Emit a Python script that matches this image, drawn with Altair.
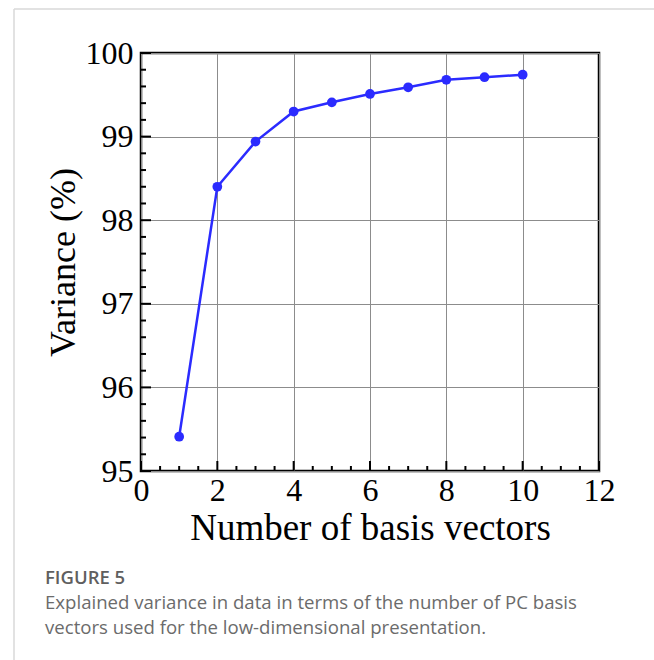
import altair as alt
import pandas as pd

# Explained variance versus number of PC basis vectors
n_vectors = [1, 2, 3, 4, 5, 6, 7, 8, 9, 10]
variance = [95.41, 98.40, 98.94, 99.30, 99.41, 99.51, 99.59, 99.68, 99.71, 99.74]

x_major = [0, 2, 4, 6, 8, 10, 12]
y_major = [95, 96, 97, 98, 99, 100]
x_minor = [v / 2 for v in range(0, 25) if v % 4 != 0]
y_minor = [95 + v / 5 for v in range(0, 26) if v % 5 != 0]

caption_head = "FIGURE 5"
caption_lines = [
    "Explained variance in data in terms of the number of PC basis",
    "vectors used for the low-dimensional presentation.",
]

W, H = 458, 418
SERIF = "Liberation Serif"
SANS = "Open Sans"

df = pd.DataFrame({"n": n_vectors, "var": variance})

xs = alt.Scale(domain=[0, 12], nice=False, zero=False)
ys = alt.Scale(domain=[95, 100], nice=False, zero=False)

axis_common = dict(
    labelFont=SERIF, labelFontSize=32, labelColor="black", labelFlush=False,
    titleFont=SERIF, titleColor="black", titleFontWeight="normal",
    grid=True, gridColor="#8c8c8c", gridWidth=1,
    domain=False, ticks=False, format="d",
)

base = alt.Chart(df)

line = base.mark_line(color="#2b2bff", strokeWidth=2.5).encode(
    x=alt.X("n:Q", scale=xs, axis=alt.Axis(
        values=x_major, title="Number of basis vectors", titleFontSize=37,
        labelPadding=4, titlePadding=4, **axis_common)),
    y=alt.Y("var:Q", scale=ys, axis=alt.Axis(
        values=y_major, title="Variance (%)", titleFontSize=36,
        labelPadding=8, titlePadding=3, **axis_common)),
)
points = base.mark_point(filled=True, color="#2b2bff", size=95, opacity=1).encode(
    x=alt.X("n:Q", scale=xs), y=alt.Y("var:Q", scale=ys)
)

# inward tick marks along the bottom and left edges
def xticks(vals, length):
    return alt.Chart(pd.DataFrame({"t": vals})).mark_rule(color="black", strokeWidth=2).encode(
        x=alt.X("t:Q", scale=xs), y=alt.value(H), y2=alt.value(H - length))

def yticks(vals, length):
    return alt.Chart(pd.DataFrame({"t": vals})).mark_rule(color="black", strokeWidth=2).encode(
        y=alt.Y("t:Q", scale=ys), x=alt.value(0), x2=alt.value(length))

ticks = xticks(x_major, 10) + xticks(x_minor, 5) + yticks(y_major, 10) + yticks(y_minor, 5)

# card border (top and left edges)
border_left = alt.Chart(pd.DataFrame({"a": [0]})).mark_rule(color="#d9d9d9", strokeWidth=1.5).encode(
    x=alt.value(-127), y=alt.value(-44), y2=alt.value(620))
border_top = alt.Chart(pd.DataFrame({"a": [0]})).mark_rule(color="#d9d9d9", strokeWidth=1.5).encode(
    x=alt.value(-127), x2=alt.value(560), y=alt.value(-44))

head = alt.Chart(pd.DataFrame({"t": [caption_head]})).mark_text(
    font=SANS, fontSize=18.5, fontWeight=600, color="#5f5f5f", align="left", baseline="alphabetic"
).encode(text="t:N", x=alt.value(-96), y=alt.value(531))

# caption body, one text mark per line
body = alt.layer(*[
    alt.Chart(pd.DataFrame({"t": [txt]})).mark_text(
        font=SANS, fontSize=18.6, color="#6b6b6b", align="left", baseline="alphabetic"
    ).encode(text="t:N", x=alt.value(-96), y=alt.value(556 + 25 * i))
    for i, txt in enumerate(caption_lines)
])

chart = alt.layer(border_left, border_top, line, points, ticks, head, body).properties(
    width=W, height=H,
    autosize=alt.AutoSizeParams(type="none"),
    padding={"left": 141, "top": 53, "right": 55, "bottom": 189},
    background="white",
).configure_view(stroke="black", strokeWidth=2.5)

chart.save("out.html", embed_options={"renderer": "svg", "actions": False})
